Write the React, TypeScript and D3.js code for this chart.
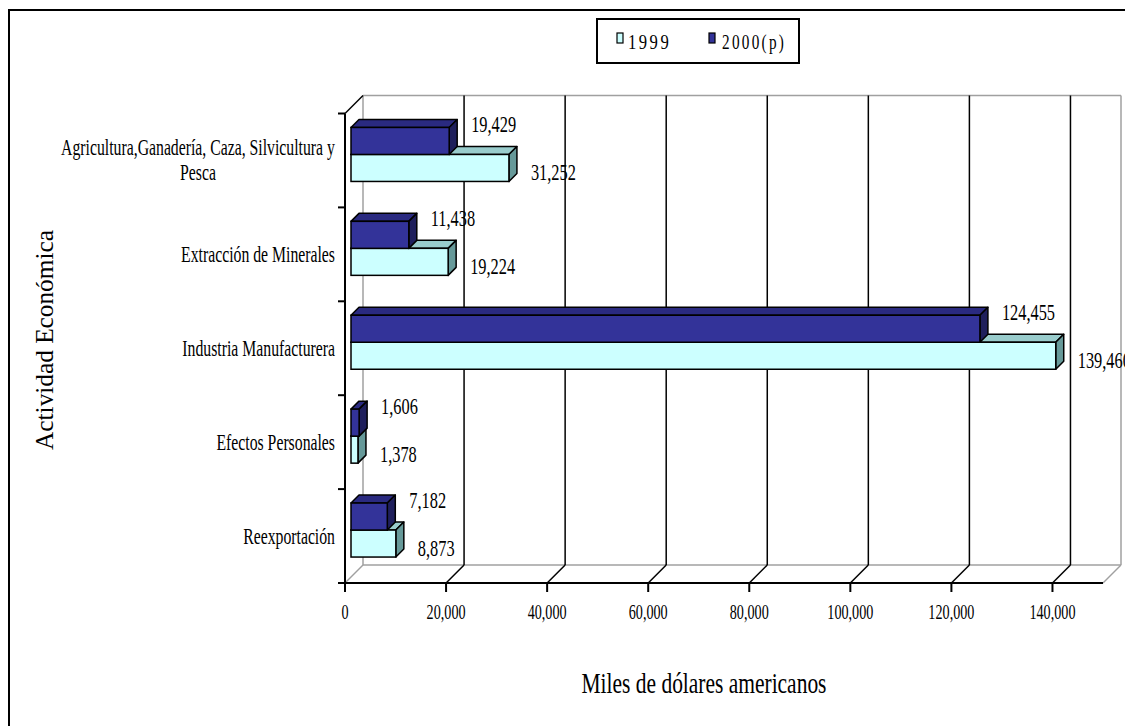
import React, { useEffect, useRef } from "react";
import * as d3 from "d3";

const categories = [
  "Agricultura,Ganadería, Caza, Silvicultura y Pesca",
  "Extracción de Minerales",
  "Industria Manufacturera",
  "Efectos Personales",
  "Reexportación",
];
const categoryLines = [
  ["Agricultura,Ganadería, Caza, Silvicultura y", "Pesca"],
  ["Extracción de Minerales"],
  ["Industria Manufacturera"],
  ["Efectos Personales"],
  ["Reexportación"],
];
const values1999 = [31252, 19224, 139460, 1378, 8873];
const values2000 = [19429, 11438, 124455, 1606, 7182];
const xTicks = [0, 20000, 40000, 60000, 80000, 100000, 120000, 140000];
const seriesNames = ["1999", "2000(p)"];

const FONT = "'Liberation Serif', 'Times New Roman', serif";

export default function App() {
  const ref = useRef<SVGSVGElement | null>(null);

  useEffect(() => {
    const svg = d3.select(ref.current);
    svg.selectAll("*").remove();

    const W = 1125, H = 726;
    const D = 18;
    const off = 6;
    const bd = 8;
    const bh = 27;

    const x = d3.scaleLinear().domain([0, 150000]).range([345, 1103]);
    const y = d3.scaleBand<string>().domain(categories).range([113.5, 583]);

    const defs = svg.append("defs");
    defs.append("clipPath").attr("id", "frameclip")
      .append("rect").attr("x", 9).attr("y", 10).attr("width", W - 9).attr("height", H - 10);

    function txt(parent: any, tx: number, ty: number, s: string, size: number, anchor: string, sx: number, extra?: (t: any) => void) {
      const g = parent.append("g").attr("transform", `translate(${tx},${ty}) scale(${sx},1)`);
      const t = g.append("text").attr("x", 0).attr("y", 0)
        .style("font-family", FONT).style("font-size", size + "px")
        .attr("text-anchor", anchor).attr("fill", "#000").text(s);
      if (extra) extra(t);
      return t;
    }
    function measure(s: string, size: number, ls = 0) {
      const t = svg.append("text").style("font-family", FONT).style("font-size", size + "px")
        .attr("letter-spacing", ls).text(s);
      const w = (t.node() as SVGTextElement).getComputedTextLength();
      t.remove();
      return w;
    }

    svg.append("rect").attr("x", 9).attr("y", 10).attr("width", W + 20).attr("height", H + 20)
      .attr("fill", "#fff").attr("stroke", "#000").attr("stroke-width", 2);

    const root = svg.append("g").attr("clip-path", "url(#frameclip)");

    const x0 = x(0), x1 = x(150000);
    const yTop = 113.5, yBot = 583;
    const gray = "#a0a0a0";

    const ln = (x1_: number, y1_: number, x2_: number, y2_: number, stroke: string, w: number) =>
      root.append("line").attr("x1", x1_).attr("y1", y1_).attr("x2", x2_).attr("y2", y2_)
        .attr("stroke", stroke).attr("stroke-width", w);

    ln(x0 + D, yTop - D, x1 + D, yTop - D, gray, 1.5);
    ln(x0 + D, yTop - D, x0 + D, yBot - D, gray, 1.5);
    ln(x1 + D, yTop - D, x1 + D, yBot - D, gray, 1.5);
    ln(x0 + D, yBot - D, x1 + D, yBot - D, gray, 1.5);
    ln(x0, yBot, x0 + D, yBot - D, gray, 1.5);
    ln(x1, yBot, x1 + D, yBot - D, gray, 1.5);

    xTicks.filter((v) => v > 0).forEach((v) => {
      const xv = x(v);
      ln(xv + D, yTop - D, xv + D, yBot - D, "#000", 1.5);
      ln(xv, yBot, xv + D, yBot - D, "#000", 1.5);
    });

    ln(x0, yBot, x1, yBot, "#000", 2);
    ln(x0, yTop, x0, yBot, "#000", 2);
    ln(x0, yTop, x0 + D, yTop - D, "#000", 1.5);

    const tickSize = 21;
    const tickSx = 39 / measure("20,000", tickSize);
    xTicks.forEach((v) => {
      ln(x(v), yBot, x(v), yBot + 9, "#000", 2);
      txt(root, x(v), 619, d3.format(",")(v), tickSize, "middle", tickSx);
    });
    const bounds = categories.map((c) => y(c)!).concat([yBot]);
    bounds.forEach((b) => ln(x0 - 7, b, x0, b, "#000", 2));

    const catSize = 23;
    const catSx = 274 / measure(categoryLines[0][0], catSize);
    categories.forEach((c, i) => {
      const cy = y(c)! + y.bandwidth() / 2;
      const lines = categoryLines[i];
      if (lines.length === 1) {
        txt(root, 335, cy + 8, lines[0], catSize, "end", catSx);
      } else {
        const w0 = measure(lines[0], catSize) * catSx;
        const cx = 335 - w0 / 2;
        txt(root, cx, cy - 5, lines[0], catSize, "middle", catSx);
        txt(root, cx, cy + 20, lines[1], catSize, "middle", catSx);
      }
    });

    const colors = {
      light: { front: "#ccffff", top: "#99cccc", side: "#669999" },
      dark: { front: "#333399", top: "#2a2a80", side: "#1f1f5c" },
    };
    function bar(g: any, v: number, yf: number, col: any) {
      const xl = x(0) + off, xr = x(v) + off;
      const yt = yf, yb = yf + bh;
      g.append("path").attr("d", `M${xl},${yt}L${xl + bd},${yt - bd}L${xr + bd},${yt - bd}L${xr},${yt}Z`)
        .attr("fill", col.top).attr("stroke", "#000").attr("stroke-width", 1.5).attr("stroke-linejoin", "round");
      g.append("path").attr("d", `M${xr},${yt}L${xr + bd},${yt - bd}L${xr + bd},${yb - bd}L${xr},${yb}Z`)
        .attr("fill", col.side).attr("stroke", "#000").attr("stroke-width", 1.5).attr("stroke-linejoin", "round");
      g.append("rect").attr("x", xl).attr("y", yt).attr("width", xr - xl).attr("height", bh)
        .attr("fill", col.front).attr("stroke", "#000").attr("stroke-width", 1.5);
    }

    const valSize = 24;
    const valSx = 45 / measure("19,429", valSize);
    const barsG = root.append("g");
    categories.forEach((c, i) => {
      const cy = y(c)! + y.bandwidth() / 2 - off;
      bar(barsG, values1999[i], cy, colors.light);
      bar(barsG, values2000[i], cy - bh, colors.dark);
    });
    categories.forEach((c, i) => {
      const cy = y(c)! + y.bandwidth() / 2 - off;
      txt(root, x(values2000[i]) + off + 22, cy - bh + 5, d3.format(",")(values2000[i]), valSize, "start", valSx);
      txt(root, x(values1999[i]) + off + 22, cy + bh / 2 + 12, d3.format(",")(values1999[i]), valSize, "start", valSx);
    });

    const xtSize = 30;
    txt(root, 704, 693, "Miles de dólares americanos", xtSize, "middle", 245 / measure("Miles de dólares americanos", xtSize));
    const ytSize = 26;
    const yg = root.append("g").attr("transform", `translate(53,340) rotate(-90)`);
    txt(yg, 0, 0, "Actividad Económica", ytSize, "middle", 220 / measure("Actividad Económica", ytSize));

    root.append("rect").attr("x", 597).attr("y", 19).attr("width", 202).attr("height", 44)
      .attr("fill", "#fff").attr("stroke", "#000").attr("stroke-width", 2);
    const legItems = [
      { name: seriesNames[0], col: colors.light.front, sx: 617, tx: 628, w: 41 },
      { name: seriesNames[1], col: colors.dark.front, sx: 709, tx: 722, w: 62 },
    ];
    const legSize = 20;
    legItems.forEach((it) => {
      root.append("rect").attr("x", it.sx).attr("y", 33).attr("width", 6).attr("height", 10)
        .attr("fill", it.col).attr("stroke", "#000").attr("stroke-width", 1.2);
      const lw = measure(it.name, legSize, 3);
      txt(root, it.tx, 49, it.name, legSize, "start", (it.w + 3 * 0.75) / lw, (t) => t.attr("letter-spacing", 3));
    });
  }, []);

  return (
    <svg
      ref={ref}
      width={1125}
      height={726}
      style={{ position: "absolute", left: 0, top: 0, background: "#fff" }}
    />
  );
}
